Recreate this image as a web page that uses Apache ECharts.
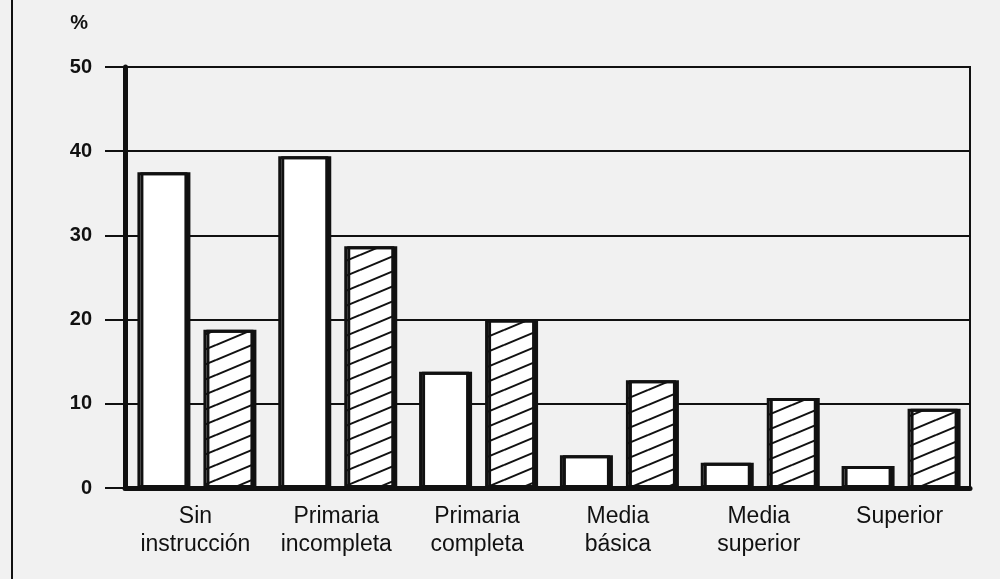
<!DOCTYPE html>
<html>
<head>
<meta charset="utf-8">
<script src="https://cdn.jsdelivr.net/npm/echarts@6/dist/echarts.min.js"></script>
<style>
html,body{margin:0;padding:0;background:#f1f1f1;}
#wrap{position:absolute;left:0;top:0;width:1000px;height:579px;}
#border{position:absolute;left:11px;top:0;width:2px;height:579px;background:#111;}
#chart{position:absolute;left:0;top:0;width:1000px;height:579px;}
</style>
</head>
<body>
<div id="wrap"><div id="chart"></div><div id="border"></div></div>
<script>
const categories = ['Sin\ninstrucción', 'Primaria\nincompleta', 'Primaria\ncompleta', 'Media\nbásica', 'Media\nsuperior', 'Superior'];
const seriesA = [37.5, 39.4, 13.8, 3.9, 3.0, 2.6];
const seriesB = [18.8, 28.7, 20.0, 12.8, 10.7, 9.4];
const yTicks = [0, 10, 20, 30, 40, 50];

function hatch() {
  const W = 36, H = 15;
  const c = document.createElement('canvas');
  c.width = W; c.height = H;
  const g = c.getContext('2d');
  g.fillStyle = '#fff';
  g.fillRect(0, 0, W, H);
  g.strokeStyle = '#111';
  g.lineWidth = 2;
  for (let k = -1; k <= 1; k++) {
    g.beginPath();
    g.moveTo(0, H + k * H);
    g.lineTo(W, 0 + k * H);
    g.stroke();
  }
  return c;
}

const chart = echarts.init(document.getElementById('chart'));
const barStyle = {
  borderColor: '#111',
  borderWidth: 3,
  shadowColor: '#111',
  shadowOffsetX: 3,
  shadowOffsetY: 0,
  shadowBlur: 0
};
const font = 'Liberation Sans, Arial, sans-serif';
chart.setOption({
  animation: false,
  backgroundColor: 'transparent',
  grid: { left: 125, right: 30, top: 67, bottom: 91, show: true, borderColor: '#111', borderWidth: 2 },
  xAxis: {
    type: 'category',
    data: categories,
    axisLine: { show: true, lineStyle: { color: '#111', width: 5 } },
    axisTick: { show: false },
    axisLabel: { color: '#111', fontSize: 23, lineHeight: 28, margin: 15, fontFamily: font, interval: 0 }
  },
  yAxis: {
    type: 'value',
    min: yTicks[0],
    max: yTicks[yTicks.length - 1],
    interval: 10,
    name: '%',
    nameLocation: 'end',
    nameGap: 34,
    nameTextStyle: { color: '#111', fontSize: 20, fontWeight: 'bold', align: 'right', padding: [0, 37, 0, 0], fontFamily: font },
    axisLine: { show: true, lineStyle: { color: '#111', width: 5 } },
    axisTick: { show: true, length: 20, lineStyle: { color: '#111', width: 2 } },
    axisLabel: { color: '#111', fontSize: 20, fontWeight: 'bold', margin: 33, fontFamily: font },
    splitLine: { show: true, lineStyle: { color: '#111', width: 2 } }
  },
  series: [
    { name: 'Serie 1', type: 'bar', data: seriesA, barWidth: 50, barGap: '32%', itemStyle: Object.assign({ color: '#fff' }, barStyle) },
    { name: 'Serie 2', type: 'bar', data: seriesB, barWidth: 50, itemStyle: Object.assign({ color: { image: hatch(), repeat: 'repeat' } }, barStyle) }
  ]
});
</script>
</body>
</html>
